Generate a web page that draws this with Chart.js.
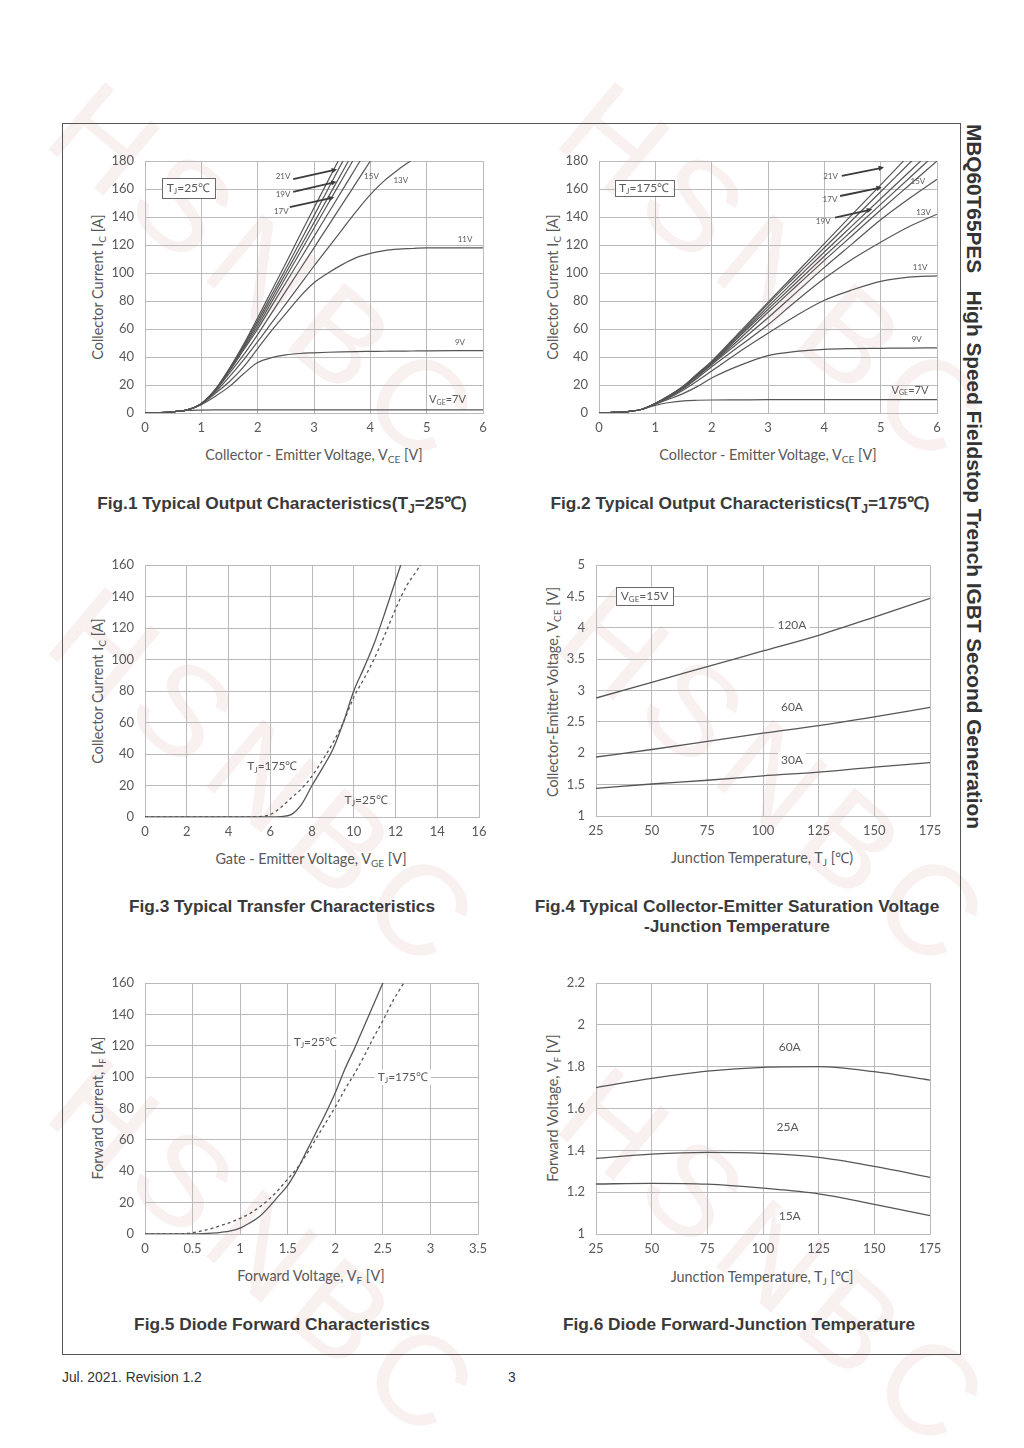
<!DOCTYPE html>
<html><head><meta charset="utf-8">
<script src="https://cdn.jsdelivr.net/npm/chart.js@4.4.0/dist/chart.umd.min.js"></script>
<style>
html,body{margin:0;padding:0;background:#fff;}
body{width:1024px;height:1448px;position:relative;overflow:hidden;font-family:'Liberation Sans',Arial,sans-serif;}
.frame{position:absolute;left:62px;top:123px;width:899px;height:1232px;border:1.5px solid #555;box-sizing:border-box}
.wm{position:absolute;font-family:'Liberation Sans',Arial,sans-serif;font-size:128px;color:rgba(190,90,90,0.09);transform-origin:0 0;transform:rotate(40deg);white-space:nowrap;letter-spacing:14px;line-height:1}
.cv{position:absolute}
.cap{position:absolute;font-weight:bold;font-size:17.3px;color:#3a3a3a;white-space:nowrap;transform:translateX(-50%);line-height:20px;text-align:center}
.xt{position:absolute;font-family:Lato,sans-serif;font-size:14.4px;color:#595959;white-space:nowrap;transform:translate(-50%,-50%)}
.yt{position:absolute;font-family:Lato,sans-serif;font-size:14.4px;color:#595959;white-space:nowrap;transform:translate(-50%,-50%) rotate(-90deg)}
sub{font-size:70%;vertical-align:-0.3em;line-height:0}
.side{position:absolute;left:962px;top:124px;writing-mode:vertical-rl;font-weight:bold;font-size:20.8px;color:#333;white-space:pre;font-family:'Liberation Sans',Arial,sans-serif}
.foot{position:absolute;font-size:13.8px;color:#333;font-family:'Liberation Sans',Arial,sans-serif}
</style></head>
<body>
<div class="wm" style="left:110px;top:60px">HSNBC</div>
<div class="wm" style="left:620px;top:60px">HSNBC</div>
<div class="wm" style="left:110px;top:565px">HSNBC</div>
<div class="wm" style="left:620px;top:565px">HSNBC</div>
<div class="wm" style="left:110px;top:1035px">HSNBC</div>
<div class="wm" style="left:620px;top:1045px">HSNBC</div>
<div class="frame"></div>
<div class="side">MBQ60T65PES   High Speed Fieldstop Trench IGBT Second Generation</div>

<div class="xt" style="left:314px;top:454px">Collector - Emitter Voltage, V<sub>CE</sub> [V]</div>
<div class="yt" style="left:97px;top:287px">Collector Current I<sub>C</sub> [A]</div>
<div class="xt" style="left:768px;top:454px">Collector - Emitter Voltage, V<sub>CE</sub> [V]</div>
<div class="yt" style="left:552px;top:287px">Collector Current I<sub>C</sub> [A]</div>
<div class="xt" style="left:311px;top:858px">Gate - Emitter Voltage, V<sub>GE</sub> [V]</div>
<div class="yt" style="left:97px;top:691px">Collector Current I<sub>C</sub> [A]</div>
<div class="xt" style="left:762px;top:857px">Junction Temperature, T<sub>J</sub> [℃)</div>
<div class="yt" style="left:552px;top:692px">Collector-Emitter Voltage, V<sub>CE</sub> [V]</div>
<div class="xt" style="left:311px;top:1275px">Forward Voltage, V<sub>F</sub> [V]</div>
<div class="yt" style="left:97px;top:1108px">Forward Current, I<sub>F</sub> [A]</div>
<div class="xt" style="left:762px;top:1276px">Junction Temperature, T<sub>J</sub> [℃]</div>
<div class="yt" style="left:552px;top:1108px">Forward Voltage, V<sub>F</sub> [V]</div>

<div class="cap" style="left:282px;top:493px">Fig.1 Typical Output Characteristics(T<sub>J</sub>=25℃)</div>
<div class="cap" style="left:740px;top:493px">Fig.2 Typical Output Characteristics(T<sub>J</sub>=175℃)</div>
<div class="cap" style="left:282px;top:896px">Fig.3 Typical Transfer Characteristics</div>
<div class="cap" style="left:737px;top:896px">Fig.4 Typical Collector-Emitter Saturation Voltage<br>-Junction Temperature</div>
<div class="cap" style="left:282px;top:1314px">Fig.5 Diode Forward Characteristics</div>
<div class="cap" style="left:739px;top:1314px">Fig.6 Diode Forward-Junction Temperature</div>

<div class="foot" style="left:62px;top:1370px">Jul. 2021. Revision 1.2</div>
<div class="foot" style="left:508px;top:1370px">3</div>

<script>
// ---------------- DATA ----------------
// Fig.1  Tj = 25 C : collector current vs VCE
const fig1Vce = [0,0.25,0.5,0.75,1,1.25,1.5,1.75,2,2.25,2.5,2.75,3,3.25,3.5,3.75,4,4.25,4.5,4.75,5,5.5,6];
const fig1Ic7V  = [0,0.3,0.9,1.8,2.1,2.2,2.2,2.2,2.2,2.2,2.2,2.2,2.3,2.3,2.3,2.3,2.3,2.3,2.3,2.3,2.3,2.3,2.3];
const fig1Ic9V  = [0,0.3,0.9,2.2,6,12,19,28,36,39.5,41.5,42.5,43,43.4,43.7,43.9,44,44.1,44.2,44.3,44.4,44.5,44.5];
const fig1Ic11V = [0,0.3,0.9,2.2,6.3,14,22.5,33,46,59,71,83,93,100,106,111,114,116,117,117.5,118,118,118];
const fig1Ic13V = [0,0.3,0.9,2.2,6.5,15,26,38,51,64.5,78,91.5,105,118,131,144,156,166,174,181,null,null,null];
const fig1Ic15V = [0,0.3,0.9,2.2,6.6,16,28.5,41.5,56,71.5,87,102.5,118,133.5,149,164.5,180,null,null,null,null,null,null];
const fig1Ic17V = [0,0.3,0.9,2.2,6.6,16.2,30,45,60,76.5,93,109.5,126,142.5,159,175.5,192,null,null,null,null,null,null];
const fig1IcUnlabeledA = [0,0.3,0.9,2.2,6.7,16.4,30.5,46,62,79.5,97,114.5,132,149.5,167,184.5,null,null,null,null,null,null,null];
const fig1Ic19V = [0,0.3,0.9,2.2,6.7,16.6,31,47,64,82,100,118,136,154,172,190,null,null,null,null,null,null,null];
const fig1IcUnlabeledB = [0,0.3,0.9,2.2,6.8,16.8,31.5,48,66,84.5,103,122,141,160,179,198,null,null,null,null,null,null,null];
const fig1Ic21V = [0,0.3,0.9,2.2,6.8,17,32,49,68,87.5,107,127,146.5,166,185.5,null,null,null,null,null,null,null,null];

// Fig.2  Tj = 175 C
const fig2Vce = [0,0.25,0.5,0.75,1,1.25,1.5,1.75,2,2.5,3,3.5,4,4.5,5,5.5,6];
const fig2Ic7V  = [0,0.4,1,2.5,5.5,7.5,8.7,9.1,9.3,9.4,9.5,9.5,9.5,9.5,9.5,9.5,9.5];
const fig2Ic9V  = [0,0.4,1,2.5,6.3,10,14,19,25,34,41,44,45.5,46,46.2,46.4,46.5];
const fig2Ic11V = [0,0.4,1,2.5,6.5,11,16.5,23,30,44,57,69.5,80.5,88,94,97,98];
const fig2Ic13V = [0,0.4,1,2.5,6.6,11.5,17.5,25,33,48,63,80,96,110,122,133,142];
const fig2Ic15V = [0,0.4,1,2.5,6.7,12,18,26,34.5,51,68,86,104,121,138,153,167];
const fig2IcUnlabeledA = [0,0.4,1,2.5,6.8,12.2,18.5,27,35,53,72,90.5,109,127,145,162.5,180];
const fig2Ic19V = [0,0.4,1,2.5,6.8,12.3,18.7,27.3,35.5,55,74,93,112,130.5,149,167.5,186];
const fig2IcUnlabeledB = [0,0.4,1,2.5,6.8,12.4,18.9,27.6,36,56,76,95.5,115,134,153,172,191];
const fig2Ic17V = [0,0.4,1,2.5,6.9,12.5,19.1,27.9,36.5,57,78,98,118,138,158,178,198];
const fig2Ic21V = [0,0.4,1,2.5,6.9,12.6,19.3,28.2,37,58,79,100,121,142,163,184,null];

// Fig.3  transfer characteristics
const fig3Vge = [0,1,2,3,4,5,5.5,6,6.5,7,7.5,8,8.5,9,9.5,10,10.5,11,11.5,12,12.5,13,13.5];
const fig3Ic25C  = [0,0,0,0,0,0,0,0,0.3,1.5,8,20,31,43,60,80,95,111,130,150,170,null,null];
const fig3Ic175C = [0,0,0,0,0,0,0.3,1.5,6,12,18,26,36,47,60,76,88,101,116,132,146,156,166];

// Fig.4  VCE(sat) vs junction temperature, VGE = 15 V
const fig4Tj = [25,50,75,100,125,150,175];
const fig4Vce120A = [2.88,3.13,3.38,3.63,3.88,4.17,4.47];
const fig4Vce60A  = [1.94,2.06,2.19,2.32,2.44,2.58,2.73];
const fig4Vce30A  = [1.44,1.51,1.57,1.64,1.70,1.78,1.85];

// Fig.5  diode forward characteristics
const fig5Vf = [0,0.25,0.5,0.6,0.7,0.8,0.9,1.0,1.1,1.2,1.3,1.4,1.5,1.6,1.7,1.8,1.9,2.0,2.1,2.2,2.3,2.4,2.5,2.6,2.7,2.8];
const fig5If25C  = [0,0,0.1,0.3,0.6,1.1,2,3.8,7,11,17,24,31,41,53,65,77,90,105,118,132,146,160,174,null,null];
const fig5If175C = [0,0,0.8,2,3.5,5.5,7.5,10,13,17,22,28,35,42,51,61,71,81,92,102,113,125,136,148,158,168];

// Fig.6  diode forward voltage vs junction temperature
const fig6Tj = [25,50,75,100,125,150,175];
const fig6Vf60A = [1.70,1.744,1.779,1.797,1.80,1.776,1.736];
const fig6Vf25A = [1.362,1.382,1.390,1.385,1.366,1.323,1.271];
const fig6Vf15A = [1.239,1.242,1.238,1.219,1.192,1.142,1.088];

// tick definitions: [min, max, step, major]
const fig1XTicks = [0,6,0.5,1],    fig1YTicks = [0,180,10,20];
const fig2XTicks = [0,6,0.5,1],    fig2YTicks = [0,180,10,20];
const fig3XTicks = [0,16,2,2],     fig3YTicks = [0,160,20,20];
const fig4XTicks = [25,175,25,25], fig4YTicks = [1,5,0.5,0.5];
const fig5XTicks = [0,3.5,0.5,0.5],fig5YTicks = [0,160,20,20];
const fig6XTicks = [25,175,25,25], fig6YTicks = [1,2.2,0.2,0.2];

// ---------------- RENDERING ----------------
Chart.defaults.font.family = 'Lato';
const L = 70, R = 24, T = 24, B = 30;
const LINE = '#565656', GRID = '#bababa', MINOR = '#d2d2d2';

function isMajor(v, major){ const r = v / major; return Math.abs(r - Math.round(r)) < 1e-6; }
function fmt(v){ return String(+(+v).toFixed(3)); }

function axisCfg(t, pos){
  const [min, max, step, major] = t;
  return {
    type:'linear', position:pos, min, max,
    ticks:{ stepSize:step, autoSkip:false, maxRotation:0, color:'#595959', font:{family:'Lato', size:13},
      padding: pos === 'left' ? 11 : 7, includeBounds:true,
      callback:(v) => isMajor(v, major) ? fmt(v) : null },
    grid:{ drawTicks:false, lineWidth:1,
      color:(ctx) => (!ctx.tick || isMajor(ctx.tick.value, major)) ? GRID : MINOR },
    border:{ display:true, color:GRID, width:1,
      dash:(ctx) => (ctx.tick && !isMajor(ctx.tick.value, major)) ? [3,3] : [] },
    afterFit:(s) => { if (pos === 'left') s.width = L; else s.height = B; }
  };
}

function series(xs, ys, name, dashed, width){
  const data = [];
  xs.forEach((x, i) => { if (ys[i] !== null && ys[i] !== undefined) data.push({x, y:ys[i]}); });
  return { label:name, data, showLine:true, borderColor:LINE, backgroundColor:LINE, borderWidth:width || 1.2,
    pointRadius:0, cubicInterpolationMode:'monotone', borderDash: dashed ? [3,3] : [] };
}

function parseRich(s){
  const parts = []; const re = /_\{([^}]*)\}/g; let last = 0, m;
  while ((m = re.exec(s))) { if (m.index > last) parts.push({t:s.slice(last, m.index)}); parts.push({t:m[1], sub:true}); last = re.lastIndex; }
  if (last < s.length) parts.push({t:s.slice(last)});
  return parts;
}
function drawRich(ctx, s, x, y, size, bg){
  const parts = parseRich(s);
  const fm = size + 'px Lato', fs = Math.round(size * 0.68) + 'px Lato';
  let w = 0;
  parts.forEach(p => { ctx.font = p.sub ? fs : fm; p.w = ctx.measureText(p.t).width; w += p.w; });
  let sx = x - w / 2;
  if (bg) { ctx.fillStyle = '#fff'; ctx.fillRect(sx - 3, y - size * 0.65, w + 6, size * 1.3); }
  ctx.fillStyle = '#595959'; ctx.textBaseline = 'middle'; ctx.textAlign = 'left';
  parts.forEach(p => { ctx.font = p.sub ? fs : fm; ctx.fillText(p.t, sx, p.sub ? y + size * 0.28 : y); sx += p.w; });
}

function annotPlugin(ann){
  return { id:'annot', afterDatasetsDraw(chart){
    const {ctx} = chart, xs = chart.scales.x, ys = chart.scales.y;
    const px = v => xs.getPixelForValue(v), py = v => ys.getPixelForValue(v);
    ctx.save();
    (ann.boxes || []).forEach(b => {
      const x1 = px(b.x1), x2 = px(b.x2), y1 = py(b.y1), y2 = py(b.y2);
      ctx.fillStyle = '#fff'; ctx.fillRect(x1, y1, x2 - x1, y2 - y1);
      ctx.strokeStyle = '#6a6a6a'; ctx.lineWidth = 1; ctx.strokeRect(Math.round(x1) + 0.5, Math.round(y1) + 0.5, Math.round(x2 - x1), Math.round(y2 - y1));
      drawRich(ctx, b.text, (x1 + x2) / 2, (y1 + y2) / 2, b.size, false);
    });
    (ann.arrows || []).forEach(a => {
      const x1 = px(a.x1), y1 = py(a.y1), x2 = px(a.x2), y2 = py(a.y2);
      const ang = Math.atan2(y2 - y1, x2 - x1), hl = 6;
      ctx.strokeStyle = '#3c3c3c'; ctx.fillStyle = '#3c3c3c'; ctx.lineWidth = 1.8;
      ctx.beginPath(); ctx.moveTo(x1, y1); ctx.lineTo(x2 - hl * 0.8 * Math.cos(ang), y2 - hl * 0.8 * Math.sin(ang)); ctx.stroke();
      ctx.beginPath(); ctx.moveTo(x2, y2);
      ctx.lineTo(x2 - hl * Math.cos(ang - 0.45), y2 - hl * Math.sin(ang - 0.45));
      ctx.lineTo(x2 - hl * Math.cos(ang + 0.45), y2 - hl * Math.sin(ang + 0.45));
      ctx.closePath(); ctx.fill();
    });
    (ann.labels || []).forEach(l => drawRich(ctx, l.text, px(l.x), py(l.y), l.size, l.bg));
    ctx.restore();
  }};
}

function makeChart(plot, xt, yt, datasets, ann){
  const c = document.createElement('canvas');
  c.width = plot.w + L + R; c.height = plot.h + T + B;
  c.className = 'cv'; c.style.left = (plot.x - L) + 'px'; c.style.top = (plot.y - T) + 'px';
  document.body.appendChild(c);
  new Chart(c, { type:'scatter', data:{datasets},
    options:{ responsive:false, animation:false, events:[],
      layout:{ autoPadding:false, padding:{left:0, right:R, top:T, bottom:0} },
      plugins:{ legend:{display:false}, tooltip:{enabled:false} },
      scales:{ x:axisCfg(xt, 'bottom'), y:axisCfg(yt, 'left') } },
    plugins:[annotPlugin(ann)] });
}

// Fig.1
makeChart({x:145, y:161, w:338, h:252}, fig1XTicks, fig1YTicks, [
  series(fig1Vce, fig1Ic7V, 'VGE=7V'), series(fig1Vce, fig1Ic9V, '9V'), series(fig1Vce, fig1Ic11V, '11V'),
  series(fig1Vce, fig1Ic13V, '13V'), series(fig1Vce, fig1Ic15V, '15V'), series(fig1Vce, fig1Ic17V, '17V'),
  series(fig1Vce, fig1IcUnlabeledA, 'unlabeled'), series(fig1Vce, fig1Ic19V, '19V'),
  series(fig1Vce, fig1IcUnlabeledB, 'unlabeled'), series(fig1Vce, fig1Ic21V, '21V')
], {
  boxes:[{x1:0.3, x2:1.24, y1:167.6, y2:153.6, text:'T_{J}=25℃', size:12}],
  labels:[{text:'21V', x:2.45, y:169, size:8}, {text:'19V', x:2.45, y:156.4, size:8}, {text:'17V', x:2.42, y:143.8, size:8},
          {text:'15V', x:4.02, y:168.8, size:8}, {text:'13V', x:4.54, y:166.4, size:8}, {text:'11V', x:5.68, y:124.3, size:8},
          {text:'9V', x:5.59, y:50.2, size:8}, {text:'V_{GE}=7V', x:5.37, y:9.8, size:11}],
  arrows:[{x1:2.63, y1:167, x2:3.41, y2:174}, {x1:2.63, y1:158, x2:3.40, y2:165.2}, {x1:2.57, y1:147, x2:3.36, y2:154}]
});

// Fig.2
makeChart({x:599, y:161, w:338, h:252}, fig2XTicks, fig2YTicks, [
  series(fig2Vce, fig2Ic7V, 'VGE=7V'), series(fig2Vce, fig2Ic9V, '9V'), series(fig2Vce, fig2Ic11V, '11V'),
  series(fig2Vce, fig2Ic13V, '13V'), series(fig2Vce, fig2Ic15V, '15V'), series(fig2Vce, fig2IcUnlabeledA, 'unlabeled'),
  series(fig2Vce, fig2Ic19V, '19V'), series(fig2Vce, fig2IcUnlabeledB, 'unlabeled'),
  series(fig2Vce, fig2Ic17V, '17V'), series(fig2Vce, fig2Ic21V, '21V')
], {
  boxes:[{x1:0.28, x2:1.32, y1:166.4, y2:155, text:'T_{J}=175℃', size:12}],
  labels:[{text:'21V', x:4.11, y:169.3, size:8}, {text:'17V', x:4.10, y:152.6, size:8}, {text:'19V', x:3.98, y:136.6, size:8},
          {text:'15V', x:5.66, y:165.2, size:8}, {text:'13V', x:5.76, y:143, size:8}, {text:'11V', x:5.70, y:103.8, size:8},
          {text:'9V', x:5.64, y:52.9, size:8}, {text:'V_{GE}=7V', x:5.52, y:16.4, size:11}],
  arrows:[{x1:4.31, y1:169.3, x2:5.06, y2:175.5}, {x1:4.28, y1:155, x2:5.02, y2:161.2}, {x1:4.19, y1:139.5, x2:4.85, y2:145.5}]
});

// Fig.3
makeChart({x:145, y:565, w:334, h:252}, fig3XTicks, fig3YTicks, [
  series(fig3Vge, fig3Ic25C, 'Tj=25C', false, 1.3), series(fig3Vge, fig3Ic175C, 'Tj=175C', true, 1.3)
], {
  labels:[{text:'T_{J}=175℃', x:6.1, y:32, size:12}, {text:'T_{J}=25℃', x:10.6, y:10.8, size:12}]
});

// Fig.4
makeChart({x:596, y:565, w:334, h:251}, fig4XTicks, fig4YTicks, [
  series(fig4Tj, fig4Vce120A, '120A', false, 1.3), series(fig4Tj, fig4Vce60A, '60A', false, 1.3), series(fig4Tj, fig4Vce30A, '30A', false, 1.3)
], {
  boxes:[{x1:34, x2:59.6, y1:4.654, y2:4.363, text:'V_{GE}=15V', size:12}],
  labels:[{text:'120A', x:113, y:4.04, size:12, bg:true}, {text:'60A', x:113, y:2.74, size:12, bg:true}, {text:'30A', x:113, y:1.89, size:12, bg:true}]
});

// Fig.5
makeChart({x:145, y:983, w:333, h:251}, fig5XTicks, fig5YTicks, [
  series(fig5Vf, fig5If25C, 'Tj=25C', false, 1.3), series(fig5Vf, fig5If175C, 'Tj=175C', true, 1.3)
], {
  labels:[{text:'T_{J}=25℃', x:1.79, y:122.6, size:12, bg:true}, {text:'T_{J}=175℃', x:2.71, y:99.9, size:12, bg:true}]
});

// Fig.6
makeChart({x:596, y:983, w:334, h:251}, fig6XTicks, fig6YTicks, [
  series(fig6Tj, fig6Vf60A, '60A', false, 1.3), series(fig6Tj, fig6Vf25A, '25A', false, 1.3), series(fig6Tj, fig6Vf15A, '15A', false, 1.3)
], {
  labels:[{text:'60A', x:112, y:1.895, size:12, bg:true}, {text:'25A', x:111, y:1.513, size:12, bg:true}, {text:'15A', x:112, y:1.086, size:12, bg:true}]
});
</script>
</body></html>
